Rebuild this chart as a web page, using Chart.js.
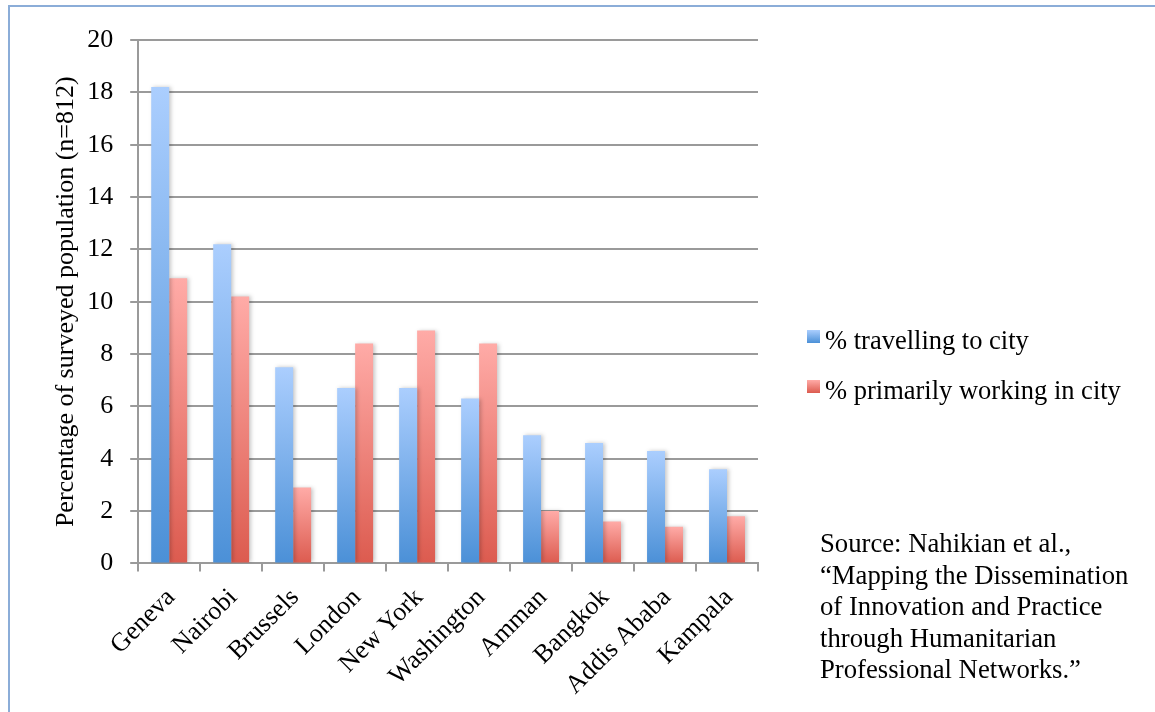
<!DOCTYPE html>
<html>
<head>
<meta charset="utf-8">
<script src="https://cdn.jsdelivr.net/npm/chart.js@4.4.0/dist/chart.umd.min.js"></script>
<style>
  html, body { margin: 0; padding: 0; background: #fff; }
  #wrap { position: relative; width: 1155px; height: 712px; overflow: hidden; }
  #frame { position: absolute; left: 8px; top: 5px; width: 1200px; height: 800px; border-left: 2px solid #8badd8; border-top: 2px solid #8badd8; }
  canvas { position: absolute; left: 0; top: 0; }
  .serif { font-family: 'Liberation Serif', 'Times New Roman', serif; color: #000; }
  #legend { position: absolute; left: 807px; top: 325px; font-size: 26.5px; }
  #legend div { position: relative; height: 50px; line-height: 30px; padding-left: 18px; white-space: nowrap; }
  #legend span { position: absolute; left: 0; top: 5px; width: 13px; height: 13px; }
  #source { position: absolute; left: 820px; top: 528px; font-size: 26.7px; line-height: 31.6px; }
</style>
</head>
<body>
<div id="wrap">
  <div id="frame"></div>
  <canvas id="chart" width="1155" height="712"></canvas>
  <div id="legend" class="serif">
    <div><span style="background: linear-gradient(#abcefe, #4b90d7);"></span>% travelling to city</div>
    <div><span style="background: linear-gradient(#ffaba7, #dc5b4f);"></span>% primarily working in city</div>
  </div>
  <div id="source" class="serif">Source: Nahikian et al.,<br>“Mapping the Dissemination<br>of Innovation and Practice<br>through Humanitarian<br>Professional Networks.”</div>
</div>
<script>
const cities = ['Geneva', 'Nairobi', 'Brussels', 'London', 'New York', 'Washington', 'Amman', 'Bangkok', 'Addis Ababa', 'Kampala'];
const travelling = [18.2, 12.2, 7.5, 6.7, 6.7, 6.3, 4.9, 4.6, 4.3, 3.6];
const working = [10.9, 10.2, 2.9, 8.4, 8.9, 8.4, 2.0, 1.6, 1.4, 1.8];
const seriesNames = ['% travelling to city', '% primarily working in city'];

const serif = "'Liberation Serif', 'Times New Roman', serif";

function barGradient(topColor, bottomColor) {
  return function (c) {
    const chart = c.chart;
    if (!chart.chartArea || c.raw === undefined) return bottomColor;
    const y = chart.scales.y;
    const top = y.getPixelForValue(c.raw);
    const base = y.getPixelForValue(0);
    const g = chart.ctx.createLinearGradient(0, top, 0, base);
    g.addColorStop(0, topColor);
    g.addColorStop(1, bottomColor);
    return g;
  };
}

// soft shadow on the right of the bars
const barShadow = {
  id: 'barShadow',
  beforeDatasetsDraw(chart) {
    const ctx = chart.ctx;
    ctx.save();
    ctx.shadowColor = 'rgba(0,0,0,0.22)';
    ctx.shadowBlur = 4;
    ctx.shadowOffsetX = 2;
    ctx.shadowOffsetY = 0;
  },
  afterDatasetsDraw(chart) {
    chart.ctx.restore();
  }
};

const ctx = document.getElementById('chart').getContext('2d');
new Chart(ctx, {
  type: 'bar',
  data: {
    labels: cities,
    datasets: [{
      label: seriesNames[0],
      data: travelling,
      backgroundColor: barGradient('#abcefe', '#4b90d7'),
      categoryPercentage: 0.58,
      barPercentage: 1.0
    }, {
      label: seriesNames[1],
      data: working,
      backgroundColor: barGradient('#ffaba7', '#dc5b4f'),
      categoryPercentage: 0.58,
      barPercentage: 1.0
    }]
  },
  plugins: [barShadow],
  options: {
    responsive: false,
    animation: false,
    layout: {
      padding: { left: 51, right: 397, top: 40, bottom: 0 }
    },
    scales: {
      x: {
        grid: { drawOnChartArea: false, drawTicks: true, tickLength: 8, color: '#9a9a9a', lineWidth: 2 },
        border: { color: '#9a9a9a', width: 2 },
        ticks: {
          autoSkip: false,
          maxRotation: 45,
          minRotation: 45,
          padding: 11,
          labelOffset: 2,
          color: '#000',
          font: { family: serif, size: 26 }
        }
      },
      y: {
        min: 0,
        max: 20,
        grid: { color: '#9a9a9a', lineWidth: 2, tickLength: 8 },
        border: { color: '#9a9a9a', width: 2 },
        ticks: {
          stepSize: 2,
          padding: 17,
          color: '#000',
          font: { family: serif, size: 26 }
        },
        title: {
          display: true,
          text: 'Percentage of surveyed population (n=812)',
          color: '#000',
          padding: { top: 0, bottom: -12 },
          font: { family: serif, size: 26 }
        }
      }
    },
    plugins: {
      legend: { display: false },
      tooltip: { enabled: false }
    }
  }
});
</script>
</body>
</html>
